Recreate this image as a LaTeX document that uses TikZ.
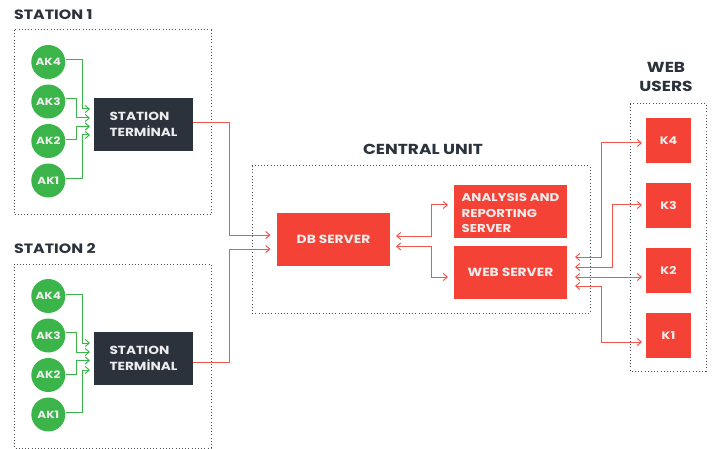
\documentclass[tikz,border=0pt]{standalone}
\usepackage{fontspec}
\setmainfont{Poppins}[FakeStretch=1.17]
\usetikzlibrary{arrows.meta}
\definecolor{redbox}{HTML}{F44336}
\definecolor{redline}{HTML}{F2564C}
\definecolor{greenc}{HTML}{3BB54A}
\definecolor{darkb}{HTML}{2B323C}
\definecolor{boxtext}{HTML}{EDEDED}
\tikzset{
  dotbox/.style={draw=darkb!85,line width=1pt,dash pattern=on 1pt off 2.2pt},
  title/.style={anchor=base west,inner sep=0pt,text=darkb,font=\fontsize{13.5}{15}\selectfont\bfseries},
  ctitle/.style={anchor=center,inner sep=0pt,text=darkb,align=center,font=\fontsize{14.5}{19}\selectfont\bfseries},
  ak/.style={circle,fill=greenc,minimum size=34pt,inner sep=0pt,text=boxtext,font=\fontsize{10.3}{12}\selectfont\bfseries},
  term/.style={fill=darkb,minimum width=99pt,minimum height=53pt,inner sep=0pt,text=boxtext,align=left,font=\fontsize{11.7}{15.5}\selectfont\bfseries},
  srv/.style={fill=redbox,inner sep=0pt,text=boxtext,font=\fontsize{11.8}{15.5}\selectfont\bfseries},
  ksrv/.style={srv,minimum size=45pt,font=\fontsize{10.8}{13}\selectfont\bfseries},
  gl/.style={draw=greenc,line width=1pt,-{Straight Barb[length=4pt,width=7pt]}},
  rl/.style={draw=redline,line width=1pt,-{Straight Barb[length=4pt,width=7pt]}},
  rr/.style={draw=redline,line width=1pt,{Straight Barb[length=4pt,width=7pt]}-{Straight Barb[length=4pt,width=7pt]}},
}
\begin{document}
\begin{tikzpicture}[x=1pt,y=-1pt]
\useasboundingbox (0,0) rectangle (712,449);
% frames
\draw[dotbox] (14,30) rectangle (211,215);
\draw[dotbox] (14,264) rectangle (211,448);
\draw[dotbox] (252,166) rectangle (590,313);
\draw[dotbox] (630,104) rectangle (706,371);
% titles
\node[title] (st1) at (14,19.5) {STATION 1};
\node[title] (st2) at (14,253) {STATION 2};
\node[ctitle] (cu) at (423,149) {CENTRAL UNIT};
\node[ctitle] (wu) at (666,77) {WEB\\USERS};
% station 1
\node[ak] (a14) at (48.3,62) {AK4};
\node[ak] (a13) at (48.3,101.5) {AK3};
\node[ak] (a12) at (48.3,141) {AK2};
\node[ak] (a11) at (48.3,180.5) {AK1};
\node[term] (t1) at (143.5,124.5) {STATION\\TERMİNAL};
% station 2
\node[ak] (a24) at (48.3,296) {AK4};
\node[ak] (a23) at (48.3,335.5) {AK3};
\node[ak] (a22) at (48.3,375) {AK2};
\node[ak] (a21) at (48.3,414.5) {AK1};
\node[term] (t2) at (143.5,358.5) {STATION\\TERMİNAL};
% central unit
\node[srv,minimum width=113pt,minimum height=53pt] (db) at (333.5,239.5) {DB SERVER};
\node[srv,minimum width=113pt,minimum height=53pt,align=left,font=\fontsize{11.4}{15.3}\selectfont\bfseries] (an) at (510.5,211.5) {\rule{0pt}{11.5pt}ANALYSIS AND\\REPORTING\\SERVER};
\node[srv,minimum width=113pt,minimum height=53pt] (web) at (510.5,272.5) {WEB SERVER};
% users
\node[ksrv] (k4) at (668.5,140.5) {K4};
\node[ksrv] (k3) at (668.5,205.5) {K3};
\node[ksrv] (k2) at (668.5,270.5) {K2};
\node[ksrv] (k1) at (668.5,335.5) {K1};
% arrow ends beside the boxes
\coordinate (t1a) at (90,109);
\coordinate (t1b) at (90,118);
\coordinate (t1c) at (90,126.5);
\coordinate (t1d) at (90,135);
\coordinate (t2a) at (90,343);
\coordinate (t2b) at (90,352);
\coordinate (t2c) at (90,360.5);
\coordinate (t2d) at (90,370);
\coordinate (dba) at (270.5,235);
\coordinate (dbb) at (270.5,249);
\coordinate (dbc) at (396,236);
\coordinate (dbd) at (396,246.5);
\coordinate (ana) at (448,205);
\coordinate (weba) at (448,277);
\coordinate (w4) at (575,257);
\coordinate (w3) at (575,267);
\coordinate (w2) at (575,277);
\coordinate (w1) at (575,286);
\coordinate (k4a) at (642,143);
\coordinate (k3a) at (642,205);
\coordinate (k2a) at (642,277);
\coordinate (k1a) at (642,342);
% station 1 connectors
\draw[gl] ([yshift=2pt]a14.east) -- (82,60) |- (t1a);
\draw[gl] ([yshift=3pt]a13.east) -- (76.5,98.5) |- (t1b);
\draw[gl] ([yshift=1pt]a12.east) -- (76.5,140) |- (t1c);
\draw[gl] ([yshift=2pt]a11.east) -- (82,178.5) |- (t1d);
% station 2 connectors
\draw[gl] ([yshift=2pt]a24.east) -- (82,294) |- (t2a);
\draw[gl] ([yshift=3pt]a23.east) -- (76.5,332.5) |- (t2b);
\draw[gl] ([yshift=1pt]a22.east) -- (76.5,374) |- (t2c);
\draw[gl] ([yshift=2pt]a21.east) -- (82,412.5) |- (t2d);
% terminals to DB
\draw[rl] ([yshift=2pt]t1.east) -- (229,122.5) |- (dba);
\draw[rl] ([yshift=-3.5pt]t2.east) -- (229,362) |- (dbb);
% DB to servers
\draw[rr] (dbc) -- (431,236) |- (ana);
\draw[rr] (dbd) -- (431,246.5) |- (weba);
% web to users
\draw[rr] (w4) -- (601,257) |- (k4a);
\draw[rr] (w3) -- (612,267) |- (k3a);
\draw[rr] (w2) -- (k2a);
\draw[rr] (w1) -- (601,286) |- (k1a);
\end{tikzpicture}
\end{document}
